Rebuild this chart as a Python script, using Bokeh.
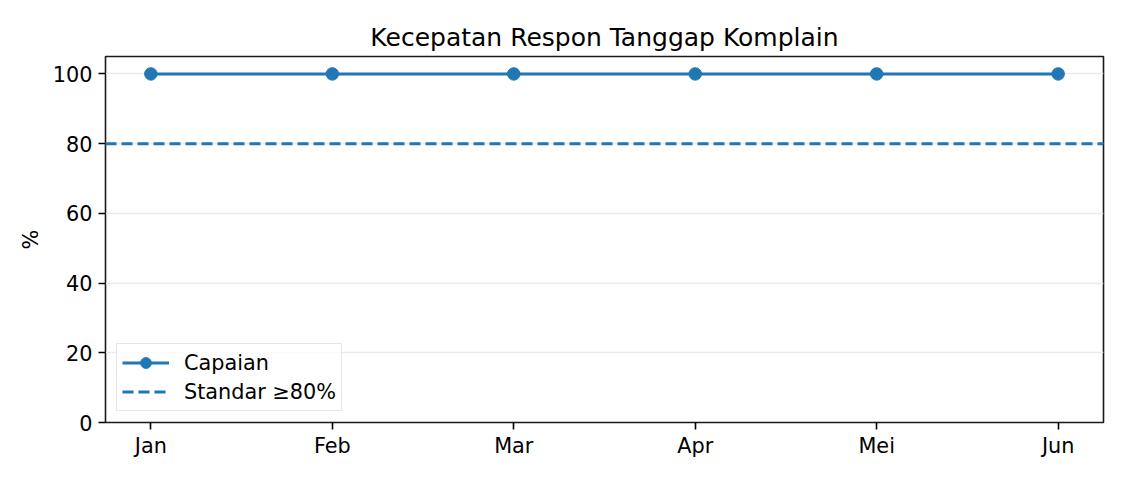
from bokeh.plotting import figure
from bokeh.models import Span, Range1d, FixedTicker, Legend, LegendItem
from bokeh.embed import file_html
from bokeh.resources import INLINE

months = ["Jan", "Feb", "Mar", "Apr", "Mei", "Jun"]
capaian = [100, 100, 100, 100, 100, 100]
standar = 80
yTicks = [0, 20, 40, 60, 80, 100]

blue = "#1f77b4"
font = "DejaVu Sans"
tickSize = "20.8px"

xs = list(range(len(months)))

p = figure(title="Kecepatan Respon Tanggap Komplain",
           frame_width=998, frame_height=366,
           min_border_left=105, min_border_right=20, min_border_top=56, min_border_bottom=50,
           x_range=Range1d(-0.25, len(months) - 0.75), y_range=Range1d(0, 105),
           output_backend="svg", toolbar_location=None)

# Title
p.title.align = "center"
p.title.text_font = font
p.title.text_font_style = "normal"
p.title.text_font_size = "25px"
p.title.text_color = "black"
p.title.standoff = 10

# Axes
p.xaxis.ticker = FixedTicker(ticks=xs)
p.xaxis.major_label_overrides = {i: m for i, m in enumerate(months)}
p.yaxis.ticker = FixedTicker(ticks=yTicks)
p.yaxis.axis_label = "%"
for ax in (p.xaxis, p.yaxis):
    ax.major_label_text_font = font
    ax.major_label_text_font_size = tickSize
    ax.major_label_text_color = "black"
    ax.axis_label_text_font = font
    ax.axis_label_text_font_size = tickSize
    ax.axis_label_text_font_style = "normal"
    ax.axis_label_text_color = "black"
    ax.minor_tick_line_color = None
    ax.major_tick_out = 7
    ax.major_tick_in = 0
    ax.major_tick_line_width = 1.6
    ax.major_tick_line_color = "black"
    ax.axis_line_color = None
p.xaxis.major_label_standoff = 4
p.yaxis.major_label_standoff = 6
p.yaxis.axis_label_standoff = 7

p.outline_line_color = "black"
p.outline_line_width = 1.6
p.outline_line_alpha = 0.9
p.xgrid.grid_line_color = None
p.ygrid.grid_line_color = "#ebebeb"
p.ygrid.grid_line_width = 1.6

# Standard line
dash = "11 5"
span = Span(location=standar, dimension="width", line_color=blue,
            line_width=3, line_dash=dash)
p.add_layout(span)

# Achievement line
r1 = p.line(xs, capaian, line_color=blue, line_width=3)
r2 = p.scatter(xs, capaian, size=12.5, fill_color=blue, line_color=blue)
proxy = p.line(x=[0, 1], y=[float("nan"), float("nan")], line_color=blue,
               line_width=3, line_dash=dash)

legend = Legend(items=[LegendItem(label="Capaian", renderers=[r1, r2]),
                       LegendItem(label="Standar ≥80%", renderers=[proxy])],
                location="bottom_left")
legend.label_text_font = font
legend.label_text_font_size = tickSize
legend.label_text_color = "black"
legend.glyph_width = 47
legend.glyph_height = 27
legend.label_height = 21
legend.label_standoff = 15
legend.spacing = 2
legend.padding = 5
legend.margin = 11
legend.border_line_color = "#cccccc"
legend.border_line_width = 1.5
legend.background_fill_alpha = 0.8
p.add_layout(legend)

open("out.html", "w").write(file_html(p, INLINE))
